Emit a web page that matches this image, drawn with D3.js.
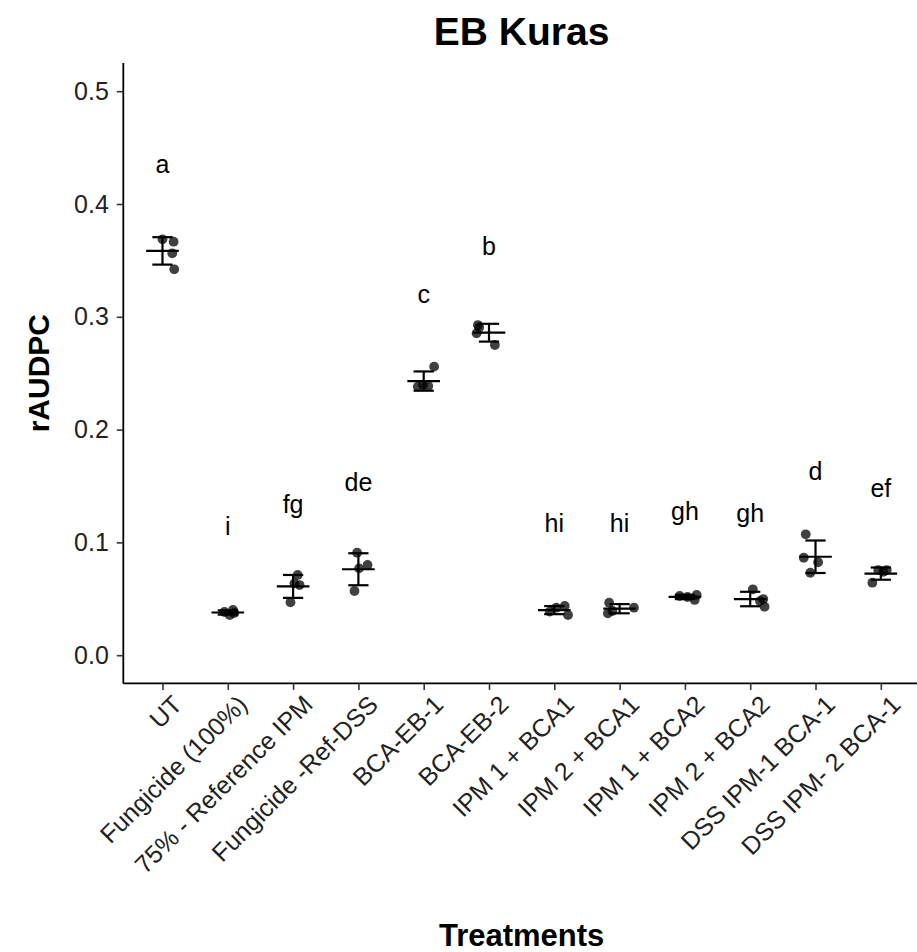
<!DOCTYPE html>
<html>
<head>
<meta charset="utf-8">
<script src="https://cdn.jsdelivr.net/npm/d3@7"></script>
<style>
  body { margin: 0; background: #fff; }
  text { font-family: "Liberation Sans", Arial, Helvetica, sans-serif; }
</style>
</head>
<body>
<div id="chart"></div>
<script>
// treatments on the x axis
var treatments = ["UT", "Fungicide (100%)", "75% - Reference IPM", "Fungicide -Ref-DSS",
  "BCA-EB-1", "BCA-EB-2", "IPM 1 + BCA1", "IPM 2 + BCA1", "IPM 1 + BCA2",
  "IPM 2 + BCA2", "DSS IPM-1 BCA-1", "DSS IPM- 2 BCA-1"];

// rAUDPC replicates per treatment
var reps = [
  [0.3687, 0.3666, 0.3563, 0.3421],
  [0.0401, 0.0356, 0.0383, 0.0374],
  [0.0711, 0.0637, 0.0622, 0.0469],
  [0.0909, 0.0800, 0.0770, 0.0569],
  [0.2558, 0.2395, 0.2387, 0.2381],
  [0.2927, 0.2854, 0.2750, 0.2905],
  [0.0386, 0.0436, 0.0356, 0.0421],
  [0.0465, 0.0371, 0.0421, 0.0392],
  [0.0534, 0.0490, 0.0516, 0.0525],
  [0.0584, 0.0498, 0.0430, 0.0480],
  [0.1072, 0.0864, 0.0824, 0.0731],
  [0.0643, 0.0755, 0.0755, 0.0740]
];

// horizontal jitter of each replicate, in category units
var jitter = [
  [0.00, 0.17, 0.15, 0.18],
  [0.08, 0.03, -0.05, 0.10],
  [0.07, 0.02, 0.10, -0.04],
  [-0.02, 0.14, 0.01, -0.06],
  [0.16, -0.01, 0.07, -0.09],
  [-0.17, -0.19, 0.09, -0.15],
  [-0.07, 0.16, 0.21, 0.03],
  [-0.16, -0.18, 0.22, -0.11],
  [0.18, 0.15, 0.04, -0.08],
  [0.04, 0.20, 0.22, 0.15],
  [-0.15, -0.18, 0.04, -0.08],
  [-0.13, -0.04, 0.09, 0.04]
];

// significance letters and where they sit
var letters = ["a", "i", "fg", "de", "c", "b", "hi", "hi", "gh", "gh", "d", "ef"];
var letterY = [0.4275, 0.1066, 0.1263, 0.1456, 0.312, 0.3548, 0.109, 0.109, 0.1199, 0.1183, 0.1553, 0.1405];

var yTicks = [0.0, 0.1, 0.2, 0.3, 0.4, 0.5];

//set svg and chart dimensions
var svgWidth = 917;
var svgHeight = 952;

var margin = { top: 63, right: -3, bottom: 268.6, left: 123.3 };
var width = svgWidth - margin.left - margin.right;
var height = svgHeight - margin.top - margin.bottom;

var svg = d3.select("#chart")
  .append("svg")
  .attr("width", svgWidth)
  .attr("height", svgHeight)
  .style("display", "block");

svg.append("rect")
  .attr("width", svgWidth)
  .attr("height", svgHeight)
  .attr("fill", "#fff");

var chartGroup = svg.append("g")
  .attr("transform", `translate(${margin.left}, ${margin.top})`);

// scales
var xScale = d3.scalePoint()
  .domain(treatments)
  .range([0, width])
  .padding(0.6);
var unit = xScale.step();

var yScale = d3.scaleLinear()
  .domain([-0.025, 0.525])
  .range([height, 0]);

// build summary rows
var rows = treatments.map(function(t, i) {
  return {
    treatment: t,
    mean: d3.mean(reps[i]),
    sd: d3.deviation(reps[i]),
    letter: letters[i],
    ly: letterY[i]
  };
});

var points = [];
treatments.forEach(function(t, i) {
  reps[i].forEach(function(v, j) {
    points.push({ treatment: t, value: v, dx: jitter[i][j] });
  });
});

// axes
var bottomAxis = d3.axisBottom(xScale).tickSize(6.5).tickPadding(6);
var leftAxis = d3.axisLeft(yScale).tickValues(yTicks).tickFormat(d3.format(".1f")).tickSize(6.5).tickPadding(8);

var xAxis = chartGroup.append("g")
  .attr("transform", `translate(0, ${height})`)
  .call(bottomAxis);

var yAxis = chartGroup.append("g")
  .call(leftAxis);

[xAxis, yAxis].forEach(function(ax) {
  ax.select(".domain").attr("stroke", "#000").attr("stroke-width", 1.8);
  ax.selectAll(".tick line").attr("stroke", "#333").attr("stroke-width", 1.6);
  ax.selectAll(".tick text").attr("fill", "#222").attr("font-size", "25px");
});

// trim the axis lines to a plain L shape
xAxis.select(".domain").attr("d", `M0,0H${width}`);
yAxis.select(".domain").attr("d", `M0,0V${height}`);

// rotated treatment labels
xAxis.selectAll(".tick text")
  .attr("text-anchor", "end")
  .attr("dy", "0.72em")
  .attr("transform", "translate(3, 5) rotate(-45)")
  .attr("y", 7)
  .attr("x", 0);

// jittered replicate points
chartGroup.selectAll(".pt")
  .data(points)
  .enter()
  .append("circle")
  .attr("class", "pt")
  .attr("cx", d => xScale(d.treatment) + d.dx * unit)
  .attr("cy", d => yScale(d.value))
  .attr("r", 4.9)
  .attr("fill", "#000")
  .attr("fill-opacity", 0.75);

// error bars: mean +/- sd
var bars = chartGroup.selectAll(".bar")
  .data(rows)
  .enter()
  .append("g")
  .attr("class", "bar")
  .attr("stroke", "#000")
  .attr("stroke-width", 2.2);

bars.append("line")
  .attr("x1", d => xScale(d.treatment))
  .attr("x2", d => xScale(d.treatment))
  .attr("y1", d => yScale(d.mean + d.sd))
  .attr("y2", d => yScale(d.mean - d.sd));

bars.append("line")
  .attr("x1", d => xScale(d.treatment) - 0.155 * unit)
  .attr("x2", d => xScale(d.treatment) + 0.155 * unit)
  .attr("y1", d => yScale(d.mean + d.sd))
  .attr("y2", d => yScale(d.mean + d.sd));

bars.append("line")
  .attr("x1", d => xScale(d.treatment) - 0.155 * unit)
  .attr("x2", d => xScale(d.treatment) + 0.155 * unit)
  .attr("y1", d => yScale(d.mean - d.sd))
  .attr("y2", d => yScale(d.mean - d.sd));

bars.append("line")
  .attr("x1", d => xScale(d.treatment) - 0.25 * unit)
  .attr("x2", d => xScale(d.treatment) + 0.25 * unit)
  .attr("y1", d => yScale(d.mean))
  .attr("y2", d => yScale(d.mean));

// letters
chartGroup.selectAll(".letter")
  .data(rows)
  .enter()
  .append("text")
  .attr("class", "letter")
  .attr("x", d => xScale(d.treatment))
  .attr("y", d => yScale(d.ly))
  .attr("text-anchor", "middle")
  .attr("font-size", "25px")
  .attr("fill", "#000")
  .text(d => d.letter);

// titles
svg.append("text")
  .attr("x", margin.left + width / 2)
  .attr("y", 45)
  .attr("text-anchor", "middle")
  .attr("font-size", "39px")
  .attr("font-weight", "bold")
  .text("EB Kuras");

svg.append("text")
  .attr("transform", `translate(49, ${margin.top + height / 2}) rotate(-90)`)
  .attr("text-anchor", "middle")
  .attr("font-size", "30px")
  .attr("font-weight", "bold")
  .text("rAUDPC");

svg.append("text")
  .attr("x", margin.left + width / 2)
  .attr("y", 946)
  .attr("text-anchor", "middle")
  .attr("font-size", "31px")
  .attr("font-weight", "bold")
  .text("Treatments");
</script>
</body>
</html>
